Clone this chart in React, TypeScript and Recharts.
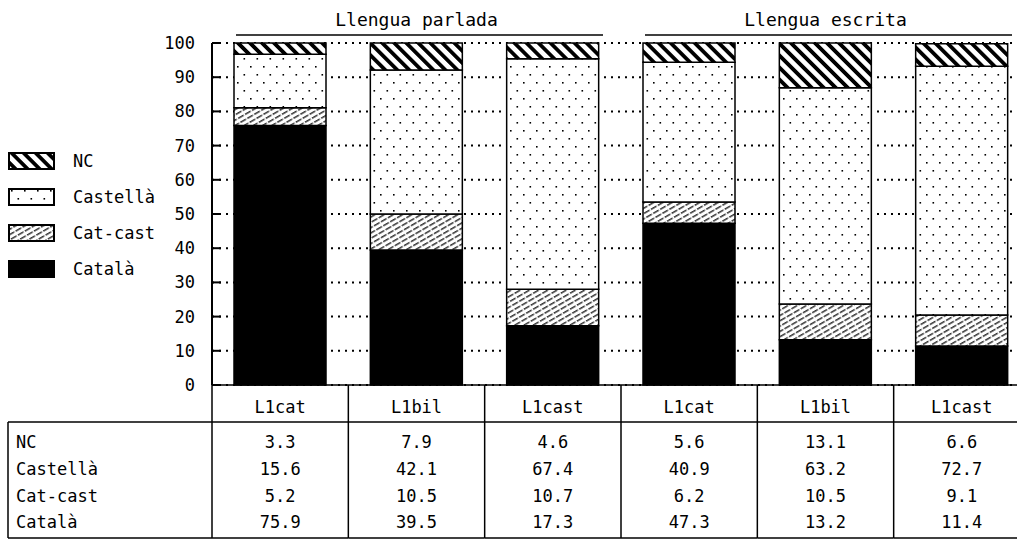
import React from "react";
import { BarChart, Bar, XAxis, YAxis, CartesianGrid, Legend } from "recharts";

// categories along the x axis and the two header groups
const categories = ["L1cat", "L1bil", "L1cast", "L1cat", "L1bil", "L1cast"];
const groups = ["Llengua parlada", "Llengua escrita"];

// percentages per answer
const nc = [3.3, 7.9, 4.6, 5.6, 13.1, 6.6];
const castella = [15.6, 42.1, 67.4, 40.9, 63.2, 72.7];
const catCast = [5.2, 10.5, 10.7, 6.2, 10.5, 9.1];
const catala = [75.9, 39.5, 17.3, 47.3, 13.2, 11.4];

const yTicks = [0, 10, 20, 30, 40, 50, 60, 70, 80, 90, 100];

// legend / table order (top to bottom)
const series = [
  { key: "nc", name: "NC", values: nc, fill: "url(#pNC)" },
  { key: "castella", name: "Castellà", values: castella, fill: "url(#pCast)" },
  { key: "catCast", name: "Cat-cast", values: catCast, fill: "url(#pCatCast)" },
  { key: "catala", name: "Català", values: catala, fill: "#000" },
];

const data = categories.map((c, i) => ({
  cat: c,
  nc: nc[i],
  castella: castella[i],
  catCast: catCast[i],
  catala: catala[i],
}));

const CHART_W = 1030;
const CHART_H = 541;
const Y_W = 212;
const X_H = 156;
const BAND = (CHART_W - Y_W) / categories.length;
const HEADER_BOTTOM = 422;
const TABLE_BOTTOM = 538;
const TABLE_LEFT = 8;
const ROW_Y = [442, 469, 496, 522];
const FONT = "'DejaVu Sans Mono', monospace";
const FS = 17;

const YTick = (props: any) => {
  const { x, y, payload } = props;
  return (
    <g>
      <line x1={x} x2={x + 9} y1={y} y2={y} stroke="#000" strokeWidth={2} />
      <text x={x - 17} y={y} dy={6} textAnchor="end" fontFamily={FONT} fontSize={FS} fill="#000">
        {payload.value}
      </text>
    </g>
  );
};

const XTick = (props: any) => {
  const { x, y, index } = props;
  const left = x - BAND / 2;
  return (
    <g fontFamily={FONT} fontSize={FS} fill="#000">
      <line x1={left} x2={left} y1={y} y2={TABLE_BOTTOM} stroke="#000" strokeWidth={1.5} />
      <line x1={left} x2={left + BAND} y1={HEADER_BOTTOM} y2={HEADER_BOTTOM} stroke="#000" strokeWidth={1.5} />
      <line x1={left} x2={left + BAND} y1={TABLE_BOTTOM} y2={TABLE_BOTTOM} stroke="#000" strokeWidth={1.5} />
      <text x={x} y={407} dy={6} textAnchor="middle">{categories[index]}</text>
      {series.map((s, j) => (
        <text key={s.key} x={x} y={ROW_Y[j]} dy={6} textAnchor="middle">
          {s.values[index].toFixed(1)}
        </text>
      ))}
      {index === 0 && (
        <g>
          <line x1={TABLE_LEFT} x2={TABLE_LEFT} y1={HEADER_BOTTOM} y2={TABLE_BOTTOM} stroke="#000" strokeWidth={1.5} />
          <line x1={TABLE_LEFT} x2={left} y1={HEADER_BOTTOM} y2={HEADER_BOTTOM} stroke="#000" strokeWidth={1.5} />
          <line x1={TABLE_LEFT} x2={left} y1={TABLE_BOTTOM} y2={TABLE_BOTTOM} stroke="#000" strokeWidth={1.5} />
          {series.map((s, j) => (
            <text key={s.key} x={TABLE_LEFT + 8} y={ROW_Y[j]} dy={6} textAnchor="start">
              {s.name}
            </text>
          ))}
        </g>
      )}
      {index % 3 === 1 && (
        <g>
          <text x={x} y={20} dy={6} textAnchor="middle" fontSize={18}>
            {groups[Math.floor(index / 3)]}
          </text>
          <line x1={x - 1.5 * BAND + 24} x2={x + 1.5 * BAND - 18} y1={35} y2={35} stroke="#000" strokeWidth={1.5} />
        </g>
      )}
    </g>
  );
};

const LegendBox = () => (
  <div style={{ fontFamily: FONT, fontSize: FS, color: "#000" }}>
    {series.map((s) => (
      <div key={s.key} style={{ display: "flex", alignItems: "center", height: 36 }}>
        <svg width={48} height={18} style={{ display: "block" }}>
          <rect x={1} y={1} width={45} height={16} fill={s.fill} stroke="#000" strokeWidth={2} />
        </svg>
        <span style={{ marginLeft: 17 }}>{s.name}</span>
      </div>
    ))}
  </div>
);

export default function App() {
  return (
    <div style={{ position: "absolute", left: 0, top: 0, width: 1017, height: 541, overflow: "hidden", background: "#fff" }}>
      <BarChart width={CHART_W} height={CHART_H} data={data} margin={{ top: 43, right: 0, bottom: 0, left: 0 }} barSize={92}>
        <defs>
          <pattern id="pNC" patternUnits="userSpaceOnUse" width={8.5} height={8.5} patternTransform="rotate(-45)">
            <rect x={0} y={0} width={8.5} height={8.5} fill="#fff" />
            <rect x={0} y={0} width={3.8} height={8.5} fill="#000" />
          </pattern>
          <pattern id="pCatCast" patternUnits="userSpaceOnUse" width={4.6} height={8} patternTransform="rotate(60)">
            <rect x={0} y={0} width={4.6} height={8} fill="#fff" />
            <line x1={0.8} x2={0.8} y1={0} y2={8} stroke="#000" strokeWidth={1.2} strokeDasharray="5 1.5" />
          </pattern>
          <pattern id="pCast" patternUnits="userSpaceOnUse" width={13} height={16}>
            <rect x={0} y={0} width={13} height={16} fill="#fff" />
            <rect x={3} y={2} width={1.6} height={1.6} fill="#000" />
            <rect x={9.5} y={10} width={1.6} height={1.6} fill="#000" />
          </pattern>
        </defs>
        <CartesianGrid vertical={false} stroke="#000" strokeWidth={2} strokeDasharray="2 5" />
        <XAxis
          dataKey="cat"
          height={X_H}
          interval={0}
          tickSize={0}
          tickMargin={0}
          tickLine={false}
          axisLine={{ stroke: "#000", strokeWidth: 1.5 }}
          tick={<XTick />}
        />
        <YAxis
          width={Y_W}
          domain={[0, 100]}
          ticks={yTicks}
          interval={0}
          tickSize={0}
          tickMargin={0}
          tickLine={false}
          axisLine={{ stroke: "#000", strokeWidth: 2 }}
          tick={<YTick />}
        />
        <Legend
          layout="vertical"
          align="center"
          verticalAlign="middle"
          wrapperStyle={{ left: 8, top: 143, width: 200 }}
          content={<LegendBox />}
        />
        <Bar dataKey="catala" stackId="a" fill="#000" stroke="#000" strokeWidth={1.5} isAnimationActive={false} />
        <Bar dataKey="catCast" stackId="a" fill="url(#pCatCast)" stroke="#000" strokeWidth={1.5} isAnimationActive={false} />
        <Bar dataKey="castella" stackId="a" fill="url(#pCast)" stroke="#000" strokeWidth={1.5} isAnimationActive={false} />
        <Bar dataKey="nc" stackId="a" fill="url(#pNC)" stroke="#000" strokeWidth={1.5} isAnimationActive={false} />
      </BarChart>
    </div>
  );
}
